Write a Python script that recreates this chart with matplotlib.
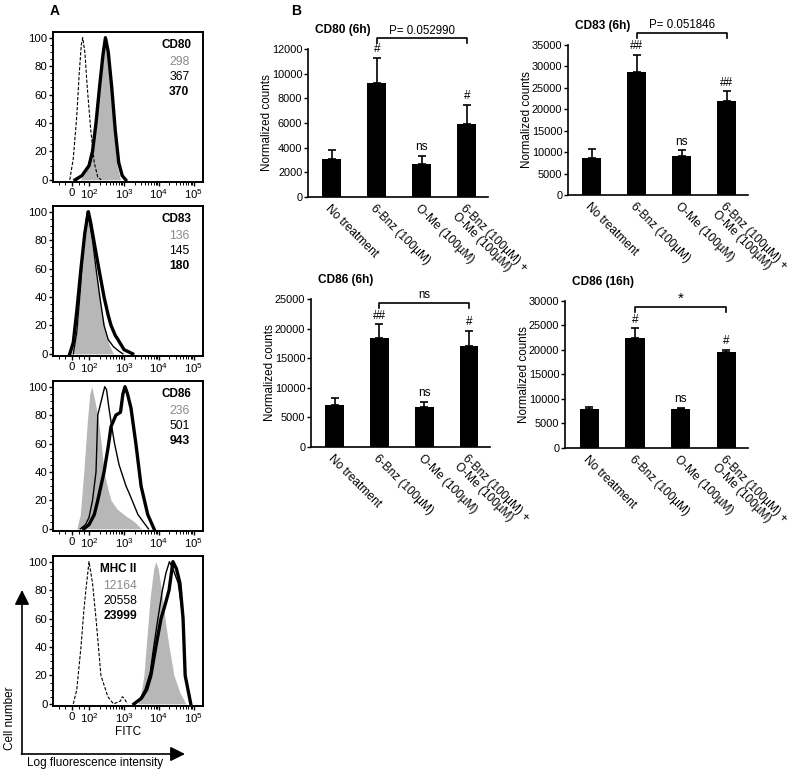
import numpy as np
import matplotlib.pyplot as plt

plt.rcParams['font.family'] = ['Liberation Sans', 'DejaVu Sans']
plt.rcParams['mathtext.fontset'] = 'custom'
plt.rcParams['mathtext.rm'] = 'Liberation Sans'

W, H = 800, 774
GRAY_FILL = '#b7b7b7'
GRAY_TXT = '#8a8a8a'

# ---------------- panel A : histograms (x in decades, y in % of max) ----------------
cd80_iso_x = [1.45, 1.55, 1.65, 1.72, 1.78, 1.82, 1.88, 1.95, 2.05, 2.15, 2.25, 2.35]
cd80_iso_y = [0, 15, 45, 75, 95, 100, 90, 65, 35, 12, 2, 0]
cd80_ctl_x = [1.75, 1.9, 2.0, 2.1, 2.2, 2.3, 2.4, 2.45, 2.5, 2.6, 2.7, 2.8, 2.9]
cd80_ctl_y = [0, 5, 12, 25, 50, 75, 95, 100, 92, 65, 35, 10, 0]
cd80_om_x = [1.65, 1.8, 2.0, 2.1, 2.2, 2.3, 2.4, 2.47, 2.55, 2.65, 2.75, 2.85, 2.95, 3.05]
cd80_om_y = [0, 3, 10, 21, 42, 66, 88, 98, 90, 64, 34, 12, 3, 0]
cd80_bnz_x = [1.6, 1.8, 2.0, 2.1, 2.2, 2.3, 2.4, 2.47, 2.55, 2.65, 2.75, 2.85, 2.95, 3.05]
cd80_bnz_y = [0, 3, 10, 20, 40, 65, 88, 100, 90, 65, 35, 12, 3, 0]

cd83_ctl_x = [1.55, 1.65, 1.75, 1.85, 1.95, 2.0, 2.1, 2.2, 2.3, 2.43, 2.55, 2.7]
cd83_ctl_y = [0, 15, 45, 80, 100, 95, 75, 55, 40, 20, 8, 0]
cd83_om_x = [1.55, 1.65, 1.75, 1.85, 1.95, 2.0, 2.1, 2.2, 2.31, 2.43, 2.55, 2.7, 2.85, 2.97]
cd83_om_y = [0, 15, 45, 80, 100, 95, 80, 60, 40, 20, 10, 5, 2, 0]
cd83_bnz_x = [1.45, 1.55, 1.65, 1.77, 1.88, 1.98, 2.05, 2.15, 2.28, 2.43, 2.55, 2.63, 2.75, 2.83, 3.0, 3.25]
cd83_bnz_y = [0, 8, 30, 60, 85, 100, 92, 78, 60, 40, 27, 20, 13, 10, 3, 0]

cd86_ctl_x = [1.65, 1.75, 1.85, 1.95, 2.02, 2.08, 2.15, 2.25, 2.35, 2.43, 2.55, 2.63, 2.8, 3.0, 3.3, 3.5]
cd86_ctl_y = [0, 10, 40, 75, 95, 100, 92, 80, 60, 40, 27, 20, 14, 10, 5, 0]
cd86_om_x = [1.75, 1.9, 2.0, 2.1, 2.2, 2.25, 2.35, 2.45, 2.5, 2.57, 2.65, 2.73, 2.86, 3.06, 3.15, 3.4, 3.7]
cd86_om_y = [0, 3, 8, 20, 40, 80, 90, 100, 98, 85, 72, 60, 45, 30, 25, 10, 0]
cd86_bnz_x = [1.85, 2.0, 2.15, 2.25, 2.43, 2.55, 2.63, 2.77, 2.9, 2.97, 3.03, 3.1, 3.2, 3.34, 3.49, 3.68, 3.86]
cd86_bnz_y = [0, 3, 10, 20, 40, 58, 72, 80, 82, 95, 100, 95, 85, 60, 30, 10, 0]

mhc_iso_x = [1.55, 1.65, 1.77, 1.85, 1.91, 2.0, 2.1, 2.2, 2.34, 2.54, 2.7, 2.9, 2.95, 3.0, 3.1]
mhc_iso_y = [0, 10, 40, 65, 80, 100, 85, 60, 20, 5, 0, 2, 5, 4, 0]
mhc_ctl_x = [3.4, 3.49, 3.57, 3.65, 3.75, 3.85, 3.91, 3.98, 4.1, 4.2, 4.29, 4.43, 4.6, 4.77]
mhc_ctl_y = [0, 8, 20, 45, 75, 95, 100, 95, 75, 55, 40, 20, 8, 0]
mhc_om_x = [3.25, 3.45, 3.6, 3.75, 3.85, 3.97, 4.1, 4.2, 4.3, 4.4, 4.55, 4.69, 4.75, 4.9]
mhc_om_y = [0, 3, 10, 22, 40, 60, 80, 92, 100, 95, 85, 60, 20, 0]
mhc_bnz_x = [3.29, 3.5, 3.65, 3.77, 3.91, 4.06, 4.18, 4.29, 4.4, 4.5, 4.6, 4.69, 4.75, 4.91]
mhc_bnz_y = [0, 4, 10, 20, 40, 60, 70, 80, 100, 95, 85, 60, 20, 0]

marker_names = ['CD80', 'CD83', 'CD86', 'MHC II']
mfi_values = [['298', '367', '370'], ['136', '145', '180'],
              ['236', '501', '943'], ['12164', '20558', '23999']]

# ---------------- panel B : bar charts ----------------
treatments = ['No treatment', '6-Bnz (100µM)', 'O-Me (100µM)', '6-Bnz (100µM) +\nO-Me (100µM)']
cd80_6h = [3100, 9250, 2650, 5950]
cd80_6h_err = [750, 2000, 700, 1500]
cd83_6h = [8700, 28600, 9000, 22000]
cd83_6h_err = [2000, 4100, 1400, 2200]
cd86_6h = [7100, 18400, 6800, 17100]
cd86_6h_err = [1100, 2300, 800, 2500]
cd86_16h = [8000, 22400, 7900, 19600]
cd86_16h_err = [400, 2000, 300, 400]

fig = plt.figure(figsize=(8, 7.74), dpi=100)


def box(l, t, r, b):
    return [l / W, 1 - b / H, (r - l) / W, (b - t) / H]


hist_boxes = [(53, 32, 203, 182), (53, 206, 203, 356), (53, 381, 203, 531), (53, 556, 203, 706)]
hist_data = [
    (cd80_iso_x, cd80_iso_y, cd80_ctl_x, cd80_ctl_y, cd80_om_x, cd80_om_y, cd80_bnz_x, cd80_bnz_y),
    (None, None, cd83_ctl_x, cd83_ctl_y, cd83_om_x, cd83_om_y, cd83_bnz_x, cd83_bnz_y),
    (None, None, cd86_ctl_x, cd86_ctl_y, cd86_om_x, cd86_om_y, cd86_bnz_x, cd86_bnz_y),
    (mhc_iso_x, mhc_iso_y, mhc_ctl_x, mhc_ctl_y, mhc_om_x, mhc_om_y, mhc_bnz_x, mhc_bnz_y),
]

minor_x = [1.15, 1.3, 1.7, 1.85]
for d in (2, 3, 4):
    minor_x += [d + np.log10(k) for k in range(2, 10)]

for i, (bx, dat) in enumerate(zip(hist_boxes, hist_data)):
    ax = fig.add_axes(box(*bx))
    ix, iy, cx, cy, ox, oy, bnx, bny = dat
    ax.fill_between(cx, cy, color=GRAY_FILL, lw=0)
    if ix is not None:
        ax.plot(ix, iy, color='k', lw=0.8, ls=(0, (3, 1.5)))
    ax.plot(ox, oy, color='k', lw=1.0)
    ax.plot(bnx, bny, color='k', lw=2.4)
    ax.set_xlim(0.97, 5.26)
    ax.set_ylim(-1.5, 104)
    ax.set_yticks([0, 20, 40, 60, 80, 100])
    ax.set_yticks(np.arange(0, 101, 5), minor=True)
    ax.set_xticks([1.5, 2, 3, 4, 5])
    ax.set_xticklabels(['0', r'$\mathregular{10^2}$', r'$\mathregular{10^3}$',
                        r'$\mathregular{10^4}$', r'$\mathregular{10^5}$'])
    ax.set_xticks(minor_x, minor=True)
    ax.tick_params(labelsize=8.2, length=3, width=1, pad=1)
    ax.tick_params(which='minor', length=2, width=0.7)
    for s in ax.spines.values():
        s.set_linewidth(1.4)
    if i < 3:
        tx, nx = 0.72, 0.775
    else:
        tx, nx = 0.315, 0.335
    ax.text(tx, 0.915, marker_names[i], transform=ax.transAxes, fontsize=8.5,
            fontweight='bold', va='center')
    vals = mfi_values[i]
    ax.text(nx, 0.80, vals[0], transform=ax.transAxes, fontsize=8.7, color=GRAY_TXT, va='center')
    ax.text(nx, 0.70, vals[1], transform=ax.transAxes, fontsize=8.7, color='k', va='center')
    ax.text(nx, 0.60, vals[2], transform=ax.transAxes, fontsize=8.7, color='k',
            fontweight='bold', va='center')

fig.text(50 / W, 1 - 11 / H, 'A', fontsize=10, fontweight='bold', va='center')
fig.text(291 / W, 1 - 11 / H, 'B', fontsize=10, fontweight='bold', va='center')

# axis legend arrows
fig.text(128 / W, 1 - 732 / H, 'FITC', fontsize=8.5, ha='center', va='center')
fig.text(10 / W, 1 - 718 / H, 'Cell number', fontsize=8.5, rotation=90, ha='center', va='center')
fig.text(95 / W, 1 - 763 / H, 'Log fluorescence intensity', fontsize=8.5, ha='center', va='center')
ax_arr = fig.add_axes([0, 0, 1, 1])
ax_arr.set_xlim(0, W)
ax_arr.set_ylim(H, 0)
ax_arr.axis('off')
ax_arr.annotate('', xy=(22, 590), xytext=(22, 754),
                arrowprops=dict(arrowstyle='-|>', mutation_scale=22, lw=1.2, color='k',
                                shrinkA=0, shrinkB=0))
ax_arr.annotate('', xy=(185, 754), xytext=(21.4, 754),
                arrowprops=dict(arrowstyle='-|>', mutation_scale=22, lw=1.2, color='k',
                                shrinkA=0, shrinkB=0))

# ---------------- bar charts ----------------
bar_boxes = [(308, 49, 488, 197), (568, 45, 748, 195), (311, 299, 490, 447), (565, 301, 748, 448)]
bar_titles = ['CD80 (6h)', 'CD83 (6h)', 'CD86 (6h)', 'CD86 (16h)']
bar_vals = [cd80_6h, cd83_6h, cd86_6h, cd86_16h]
bar_errs = [cd80_6h_err, cd83_6h_err, cd86_6h_err, cd86_16h_err]
bar_tops = [12000, 35000, 25000, 30000]
bar_steps = [2000, 5000, 5000, 5000]
bar_marks = [['', '#', 'ns', '#'], ['', '##', 'ns', '##'],
             ['', '##', 'ns', '#'], ['', '#', 'ns', '#']]
compare_text = ['P= 0.052990', 'P= 0.051846', 'ns', '*']
bracket_px = [11, 12, -4, -6]   # bracket height above axes top (pixels)

for k in range(4):
    l, t, r, b = bar_boxes[k]
    ax = fig.add_axes(box(l, t, r, b))
    x = np.arange(4)
    ax.bar(x, bar_vals[k], width=0.42, color='k')
    ax.errorbar(x, bar_vals[k], yerr=[[0] * 4, bar_errs[k]], fmt='none', ecolor='k',
                elinewidth=1.2, capsize=2.8, capthick=1.2)
    ax.set_xlim(-0.53, 3.47)
    ax.set_ylim(0, bar_tops[k])
    ax.set_yticks(np.arange(0, bar_tops[k] + 1, bar_steps[k]))
    ax.set_xticks(x)
    ax.set_xticklabels(treatments, rotation=-45, ha='left', va='top',
                       rotation_mode='anchor', fontsize=8.6, linespacing=0.95)
    ax.tick_params(axis='x', length=0, pad=4)
    ax.tick_params(axis='y', length=3, width=1, labelsize=7.9, pad=1)
    for s in ('top', 'right'):
        ax.spines[s].set_visible(False)
    for s in ('left', 'bottom'):
        ax.spines[s].set_linewidth(1.2)
    ax.set_ylabel('Normalized counts', fontsize=8.4, labelpad=-1)
    ax.annotate(bar_titles[k], xy=(0, 1), xycoords='axes fraction', xytext=(5, 14),
                textcoords='offset points', fontsize=8.6, fontweight='bold', va='center')
    for i in range(4):
        if bar_marks[k][i]:
            ax.annotate(bar_marks[k][i], xy=(i, bar_vals[k][i] + bar_errs[k][i]),
                        xytext=(0, 2), textcoords='offset points', ha='center',
                        va='bottom', fontsize=8.5)
    per_px = bar_tops[k] / (b - t)
    yb = bar_tops[k] + bracket_px[k] * per_px
    drop = 5 * per_px
    ax.plot([1, 1, 3, 3], [yb - drop, yb, yb, yb - drop], color='k', lw=1.2, clip_on=False)
    fs = 11 if compare_text[k] == '*' else 8.3
    ax.text(2, yb + 1.5 * per_px, compare_text[k], ha='center', va='bottom', fontsize=fs)

fig.savefig('out.png', dpi=100)
